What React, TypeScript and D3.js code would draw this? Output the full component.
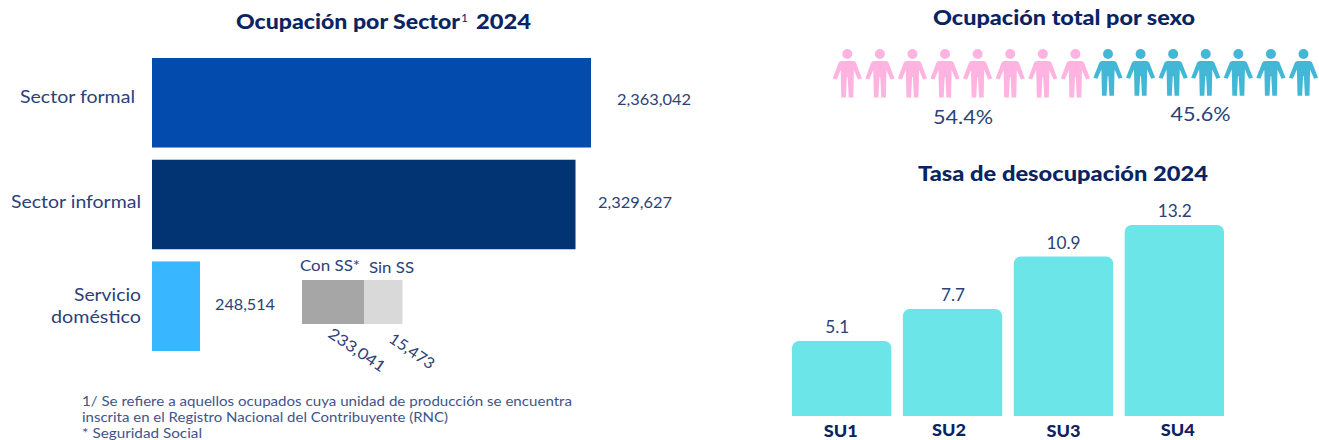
import * as d3 from 'd3';

const sectorNames = ['Sector formal', 'Sector informal', 'Servicio doméstico'];
const sectorValues = [2363042, 2329627, 248514];
const sectorColors = ['#034BAC', '#023373', '#38B6FF'];

const ssNames = ['Con SS*', 'Sin SS'];
const ssValues = [233041, 15473];
const ssColors = ['#A6A6A6', '#D9D9D9'];

const sexShares = ['54.4%', '45.6%'];
const sexIcons = [8, 7];
const sexColors = ['#FFB3E0', '#43B8D6'];

const quarters = ['SU1', 'SU2', 'SU3', 'SU4'];
const unemployment = [5.1, 7.7, 10.9, 13.2];

const footnotes = [
  '1/ Se refiere a aquellos ocupados cuya unidad de producción se encuentra',
  'inscrita en el Registro Nacional del Contribuyente (RNC)',
  '* Seguridad Social',
];

const NAVY = '#0A2463';
const TEXT = '#2A4278';
const FONT = 'Lato, sans-serif';

const fmt = d3.format(',');

// the bars in the source are not quite proportional, so the scales go through each value
const xSector = d3
  .scaleLinear()
  .domain([0, sectorValues[2], sectorValues[1], sectorValues[0]])
  .range([152, 200, 575.5, 591]);
const ySector = d3.scaleBand().domain(sectorNames).range([58, 351]).paddingInner(0.12);

const xSS = d3
  .scaleLinear()
  .domain([0, ssValues[0], ssValues[0] + ssValues[1]])
  .range([302, 364, 402.5]);

const xPerson = d3.scalePoint<number>().domain(d3.range(15)).range([847.3, 1303.5]);

const xQuarter = d3.scaleBand().domain(quarters).range([792, 1224]).paddingInner(0.104);
const yRate = d3
  .scaleLinear()
  .domain([0, ...unemployment])
  .range([416, 341, 309, 256.5, 225]);

// rounded top corners only
const topRounded = (x: number, y: number, w: number, bottom: number, r: number) => {
  const p = d3.path();
  p.moveTo(x, bottom);
  p.lineTo(x, y + r);
  p.arcTo(x, y, x + r, y, r);
  p.lineTo(x + w - r, y);
  p.arcTo(x + w, y, x + w, y + r, r);
  p.lineTo(x + w, bottom);
  p.closePath();
  return p.toString();
};

// little person, origin at the middle of the shoulders
const personBody =
  'M-6,0 L6,0 Q7.6,0 8.6,1.6 L14.6,17.6 L10.6,18.6 L6.6,9 L6,36.5 L1.4,36.5 L0.4,16 L-0.4,16 L-1.4,36.5 L-6,36.5 L-6.6,9 L-10.6,18.6 L-14.6,17.6 L-8.6,1.6 Q-7.6,0 -6,0 Z';

const Label = ({ x, y, children, anchor = 'middle', size = 15.5, fill = TEXT, weight = 400, len }: any) => (
  <text
    x={x}
    y={y}
    textAnchor={anchor}
    fontSize={size}
    fill={fill}
    fontWeight={weight}
    fontFamily={FONT}
    textLength={len}
    lengthAdjust={len ? 'spacingAndGlyphs' : undefined}
  >
    {children}
  </text>
);

const App = () => {
  const personColors = sexIcons.flatMap((n, i) => d3.range(n).map(() => i));
  const valueLabelX = [617, 598, 215];
  const valueLabelY = [105, 208, 310];
  const valueLabelLen = [74, 74, 60];

  return (
    <svg
      width={1319}
      height={440}
      viewBox="0 0 1319 440"
      style={{ position: 'absolute', left: 0, top: 0, background: '#fff' }}
    >
      {/* left panel */}
      <Label x={236} y={29} anchor="start" size={21} fill={NAVY} weight={900} len={224}>
        Ocupación por Sector
      </Label>
      <Label x={461} y={22} anchor="start" size={12} fill={NAVY}>
        1
      </Label>
      <Label x={476} y={29} anchor="start" size={21} fill={NAVY} weight={900} len={55}>
        2024
      </Label>

      {sectorNames.map((name, i) => (
        <g key={name}>
          <rect
            x={xSector(0)}
            y={ySector(name)}
            width={xSector(sectorValues[i]) - xSector(0)}
            height={ySector.bandwidth()}
            fill={sectorColors[i]}
          />
          <Label x={valueLabelX[i]} y={valueLabelY[i]} anchor="start" size={15.5} len={valueLabelLen[i]}>
            {fmt(sectorValues[i])}
          </Label>
        </g>
      ))}
      <Label x={135} y={103} anchor="end" size={18} len={115}>
        {sectorNames[0]}
      </Label>
      <Label x={141} y={208} anchor="end" size={18} len={130}>
        {sectorNames[1]}
      </Label>
      <Label x={141} y={301} anchor="end" size={18} len={67}>
        Servicio
      </Label>
      <Label x={141} y={323} anchor="end" size={18} len={90}>
        doméstico
      </Label>

      {ssValues.map((v, i) => {
        const start = i === 0 ? 0 : ssValues[0];
        return (
          <g key={ssNames[i]}>
            <rect
              x={xSS(start)}
              y={280}
              width={xSS(start + v) - xSS(start)}
              height={44}
              fill={ssColors[i]}
            />
            <g transform={`translate(${[354, 409][i]},${[354.5, 355.5][i]}) rotate(34)`}>
              <Label x={0} y={0} size={15.5} len={[65, 51][i]}>
                {fmt(v)}
              </Label>
            </g>
          </g>
        );
      })}
      <Label x={300} y={271} anchor="start" size={15.5} len={60}>
        {ssNames[0]}
      </Label>
      <Label x={369} y={273} anchor="start" size={15.5} len={45}>
        {ssNames[1]}
      </Label>

      {footnotes.map((line, i) => (
        <Label
          key={line}
          x={82}
          y={406 + i * 16}
          anchor="start"
          size={13.5}
          fill="#3F5488"
          len={[490, 366, 120][i]}
        >
          {line}
        </Label>
      ))}

      {/* right panel, people */}
      <Label x={933} y={25} anchor="start" size={20.5} fill={NAVY} weight={900} len={262}>
        Ocupación total por sexo
      </Label>
      {personColors.map((c, i) => (
        <g key={i} transform={`translate(${xPerson(i)},61)`} fill={sexColors[c]}>
          <circle cx={0} cy={-7} r={5} />
          <path d={personBody} transform={c === 1 ? 'scale(1,0.95)' : undefined} />
        </g>
      ))}
      <Label x={963} y={124} size={20} len={60}>
        {sexShares[0]}
      </Label>
      <Label x={1200.5} y={121} size={20} len={60}>
        {sexShares[1]}
      </Label>

      {/* right panel, unemployment */}
      <Label x={918} y={181} anchor="start" size={20.5} fill={NAVY} weight={900} len={290}>
        Tasa de desocupación 2024
      </Label>
      {quarters.map((q, i) => {
        const x = xQuarter(q)!;
        const w = xQuarter.bandwidth();
        const labelX = x + w / 2 + [-4.5, 0.5, 0, 0.5][i];
        const axisX = x + w / 2 + [-1, -3.5, 0, 3.5][i];
        return (
          <g key={q}>
            <path d={topRounded(x, yRate(unemployment[i]), w, yRate(0), 7)} fill="#6CE5E8" />
            <Label x={labelX} y={yRate(unemployment[i]) - 8} size={17.5} len={i < 2 ? 24 : 34}>
              {unemployment[i]}
            </Label>
            <Label x={axisX} y={[437, 436, 437, 436][i]} size={17} fill={NAVY} weight={900} len={34}>
              {q}
            </Label>
          </g>
        );
      })}
    </svg>
  );
};

export default App;
